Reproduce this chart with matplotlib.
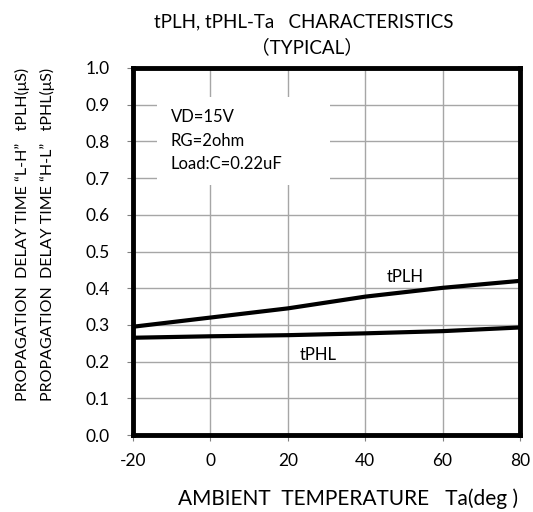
import matplotlib.pyplot as plt
from matplotlib.patches import Rectangle

plt.rcParams['font.family'] = ['Lato', 'DejaVu Sans']

# ambient temperature (deg)
ta = [-20, 0, 20, 40, 60, 80]
# propagation delay (us)
tplh = [0.295, 0.320, 0.345, 0.377, 0.401, 0.420]
tphl = [0.265, 0.269, 0.272, 0.277, 0.283, 0.293]

xticks = [-20, 0, 20, 40, 60, 80]
yticks = [0.0, 0.1, 0.2, 0.3, 0.4, 0.5, 0.6, 0.7, 0.8, 0.9, 1.0]
conditions = ["VD=15V", "RG=2ohm", "Load:C=0.22uF"]

fig = plt.figure(figsize=(5.33, 5.12), dpi=100)
ax = fig.add_axes([133 / 533, 1 - 435 / 512, 387 / 533, 367 / 512])

ax.plot(ta, tplh, color='black', lw=3, solid_capstyle='butt', zorder=4)
ax.plot(ta, tphl, color='black', lw=3, solid_capstyle='butt', zorder=4)

ax.set_xlim(-20, 80)
ax.set_ylim(0, 1.0)
ax.set_xticks(xticks)
ax.set_yticks(yticks)
ax.set_xticklabels([str(v) for v in xticks])
ax.set_yticklabels([f"{v:.1f}" for v in yticks])
ax.grid(True, color='#a6a6a6', lw=1)
ax.set_axisbelow(True)
ax.tick_params(direction='out', length=4, color='#808080', labelsize=12.5, pad=13)
ax.tick_params(axis='x', pad=9)
for s in ax.spines.values():
    s.set_linewidth(3.5)
    s.set_color('black')

# white box behind condition text
ax.add_patch(Rectangle((-13.8, 0.68), 44.8, 0.24, facecolor='white',
                       edgecolor='none', zorder=2))
for i, t in enumerate(conditions):
    ax.text(-10.2, 0.866 - i * 0.064, t, fontsize=12, va='center', ha='left', zorder=3)

ax.text(50.3, 0.43, "tPLH", fontsize=12, ha='center', va='center')
ax.text(27.8, 0.218, "tPHL", fontsize=12, ha='center', va='center')

fig.text(304 / 533, 1 - 22 / 512, "tPLH, tPHL-Ta   CHARACTERISTICS", fontsize=13.5,
         ha='center', va='center')
fig.text(307 / 533, 1 - 47 / 512, "（TYPICAL）",
         fontsize=13.5, ha='center', va='center',
         family=['Lato', 'Noto Sans CJK JP'])

fig.text(22 / 533, 1 - 234 / 512, "PROPAGATION  DELAY TIME \u201cL-H\u201d   tPLH(\u03bcS)",
         fontsize=11.5, rotation=90, ha='center', va='center')
fig.text(47 / 533, 1 - 234 / 512, "PROPAGATION  DELAY TIME \u201cH-L\u201d   tPHL(\u03bcS)",
         fontsize=11.5, rotation=90, ha='center', va='center')

fig.text(348 / 533, 1 - 499 / 512, "AMBIENT  TEMPERATURE   Ta(deg )", fontsize=15,
         ha='center', va='center')

fig.savefig('out.png', dpi=100)
